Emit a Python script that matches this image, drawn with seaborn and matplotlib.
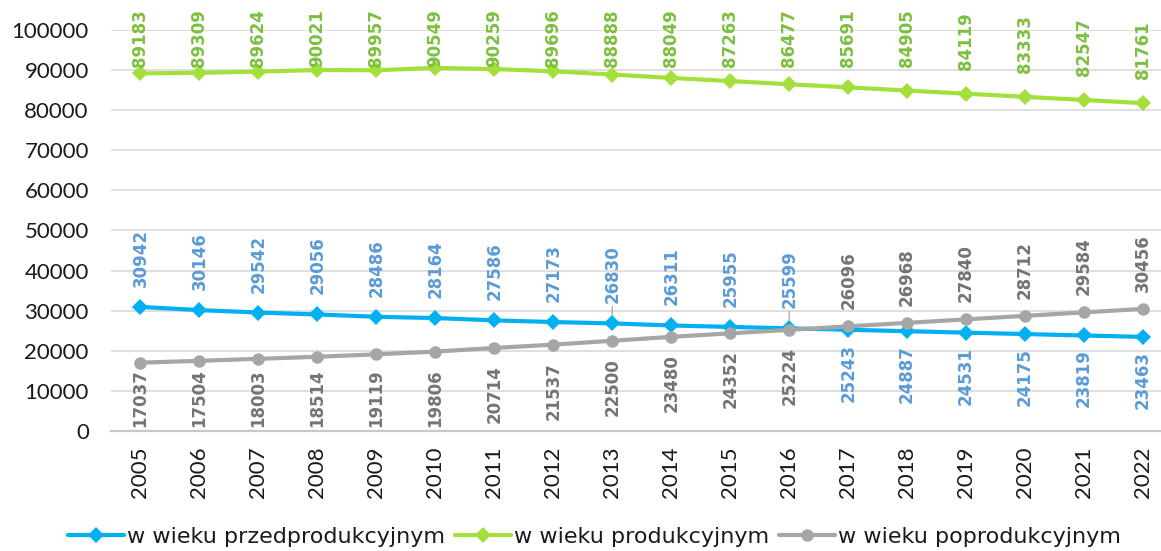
import numpy as np
import pandas as pd
import matplotlib
matplotlib.use("Agg")
import matplotlib.pyplot as plt
import seaborn as sns

years = list(range(2005, 2023))
przed = [30942, 30146, 29542, 29056, 28486, 28164, 27586, 27173, 26830, 26311,
         25955, 25599, 25243, 24887, 24531, 24175, 23819, 23463]
prod = [89183, 89309, 89624, 90021, 89957, 90549, 90259, 89696, 88888, 88049,
        87263, 86477, 85691, 84905, 84119, 83333, 82547, 81761]
popr = [17037, 17504, 18003, 18514, 19119, 19806, 20714, 21537, 22500, 23480,
        24352, 25224, 26096, 26968, 27840, 28712, 29584, 30456]
names = ["w wieku przedprodukcyjnym", "w wieku produkcyjnym", "w wieku poprodukcyjnym"]

line_colors = ["#00B0F0", "#A3E03B", "#A6A6A6"]
label_colors = ["#5B9BD5", "#7CBF3F", "#747474"]
markers = ["D", "D", "o"]

sns.set_theme(style="white")
plt.rcParams["font.family"] = ["Lato", "DejaVu Sans"]

W, H, DPI = 1161, 551, 100
fig = plt.figure(figsize=(W / DPI, H / DPI), dpi=DPI)
ax = fig.add_axes([111 / W, 120 / H, 1 - 111 / W, 401 / H])

df = pd.DataFrame({"rok": years, names[0]: przed, names[1]: prod, names[2]: popr})
for i, name in enumerate(names):
    sns.lineplot(data=df, x="rok", y=name, ax=ax, color=line_colors[i],
                 marker=markers[i], markersize=8 if markers[i] == "D" else 9,
                 markeredgewidth=0, linewidth=3, label=name, legend=False)

ax.set_xlim(2004.5, 2005 + (W - 140) / 59)
ax.set_ylim(0, 100000)
ax.set_xticks(years)
ax.set_xticklabels([str(y) for y in years], rotation=90)
ax.set_yticks(np.arange(0, 100001, 10000))
ax.set_yticklabels([str(v) for v in range(0, 100001, 10000)])
ax.tick_params(axis="x", length=0, pad=11, labelsize=16, labelcolor="#1a1a1a")
ax.tick_params(axis="y", length=0, pad=16, labelsize=16, labelcolor="#1a1a1a")
ax.set_xlabel("")
ax.set_ylabel("")
ax.grid(axis="y", color="#D9D9D9", linewidth=1.2)
ax.grid(axis="x", visible=False)
for s in ["top", "right", "left"]:
    ax.spines[s].set_visible(False)
ax.spines["bottom"].set_color("#C8C8C8")
ax.spines["bottom"].set_linewidth(1.6)
ax.set_axisbelow(True)

# data labels (rotated), kept inside the chart area like Excel does
LBL = 58
top_lim = H - 9
bot_lim = H - 427
leader_years = [2013, 2016]


def put_label(x, y, color, gap, above, leader=False):
    py = ax.transData.transform((x, y))[1]
    if above:
        bottom = py + gap
        if bottom + LBL > top_lim:
            bottom = top_lim - LBL
    else:
        top = py - gap
        if top - LBL < bot_lim:
            top = bot_lim + LBL
        bottom = top - LBL
    off = (bottom - py) * 72 / DPI
    kw = {}
    if leader:
        kw["arrowprops"] = dict(arrowstyle="-", color="#A6A6A6", lw=0.9,
                                shrinkA=0, shrinkB=6)
    ax.annotate(f"{y}", (x, y), xytext=(0, off), textcoords="offset points",
                rotation=90, ha="center", va="bottom", fontsize=12,
                family="DejaVu Sans", fontweight="bold", color=color,
                annotation_clip=False, **kw)


for j, yr in enumerate(years):
    put_label(yr, prod[j], label_colors[1], 24, True)
    blue_up = przed[j] > popr[j]
    put_label(yr, przed[j], label_colors[0], 20 if blue_up else 14, blue_up,
              leader=blue_up and yr in leader_years)
    put_label(yr, popr[j], label_colors[2], 17, not blue_up)

handles = ax.get_lines()[:3]
fig.legend(handles, names, loc="center", bbox_to_anchor=(0.512, 14 / H),
           ncol=3, frameon=False, handlelength=2.5, handletextpad=0.15,
           columnspacing=0.45, prop={"family": "DejaVu Sans", "size": 16},
           labelcolor="#1a1a1a")

fig.savefig("out.png", dpi=DPI)
